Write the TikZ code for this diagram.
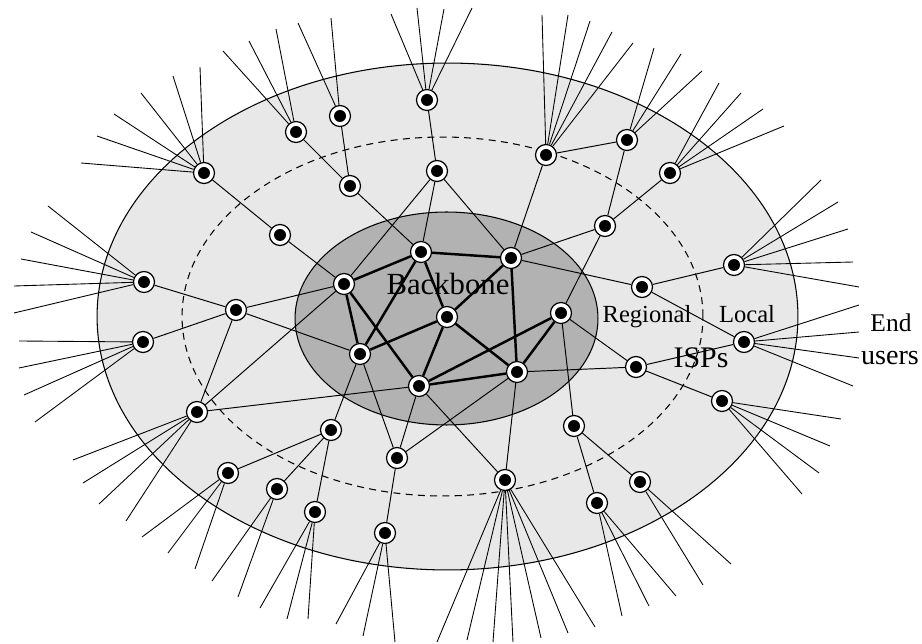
\documentclass[tikz,border=0pt]{standalone}
\usepackage{fontspec}
\setmainfont{Liberation Serif}
\begin{document}
\begin{tikzpicture}[
        x=0.02cm, y=-0.02cm,
        isp/.style={circle, draw=black, fill=white, line width=0.7pt, minimum size=0.42cm, inner sep=0pt,
            path picture={\fill[black] (path picture bounding box.center) circle (0.12cm);}},
        link/.style={black, line width=0.55pt},
        trunk/.style={black, line width=1.4pt},
        user/.style={black, line width=0.5pt},
        tag/.style={anchor=base, inner sep=0pt, font=\fontsize{14}{14}\selectfont}
    ]
    \useasboundingbox (0,0) rectangle (922,644);

    % Areas: local, regional, backbone
    \draw[fill=black!9, line width=0.6pt] (447.5,316.5) ellipse [x radius=7.01cm, y radius=5.07cm];
    \draw[dash pattern=on 4pt off 3pt, line width=0.6pt] (442.5,316.5) ellipse [x radius=5.21cm, y radius=3.59cm];
    \draw[fill=black!30, line width=0.6pt] (446.5,318.5) ellipse [x radius=3.03cm, y radius=2.13cm];

    % Backbone routers
    \node[isp] (B1) at (344,284) {};
    \node[isp] (B2) at (421,252) {};
    \node[isp] (B3) at (511,258) {};
    \node[isp] (B4) at (447,317) {};
    \node[isp] (B5) at (561,313) {};
    \node[isp] (B6) at (360,354) {};
    \node[isp] (B7) at (419,386) {};
    \node[isp] (B8) at (517,372) {};

    % Regional ISPs
    \node[isp] (R1) at (350,186) {};
    \node[isp] (R2) at (437,171) {};
    \node[isp] (R3) at (280,235) {};
    \node[isp] (R4) at (236,310) {};
    \node[isp] (R5) at (605,226) {};
    \node[isp] (R6) at (642,287) {};
    \node[isp] (R7) at (636,367) {};
    \node[isp] (R8) at (331,430) {};
    \node[isp] (R9) at (397,458) {};
    \node[isp] (R10) at (574,426) {};

    % Local ISPs
    \node[isp] (L1) at (204,173) {};
    \node[isp] (L2) at (296,132) {};
    \node[isp] (L3) at (340,116) {};
    \node[isp] (L4) at (427,100) {};
    \node[isp] (L5) at (546,155) {};
    \node[isp] (L6) at (627,140) {};
    \node[isp] (L7) at (670,173) {};
    \node[isp] (L8) at (734,265) {};
    \node[isp] (L9) at (744,342) {};
    \node[isp] (L10) at (722,401) {};
    \node[isp] (L11) at (640,482) {};
    \node[isp] (L12) at (597,503) {};
    \node[isp] (L13) at (505,480) {};
    \node[isp] (L14) at (385,533) {};
    \node[isp] (L15) at (315,512) {};
    \node[isp] (L16) at (277,489) {};
    \node[isp] (L17) at (228,473) {};
    \node[isp] (L18) at (143,342) {};
    \node[isp] (L19) at (144,282) {};
    \node[isp] (L20) at (197,412) {};

    % Backbone trunks
    \draw[trunk] (B1) -- (B2) -- (B3);
    \draw[trunk] (B1) -- (B6);
    \draw[trunk] (B1) -- (B7);
    \draw[trunk] (B2) -- (B4);
    \draw[trunk] (B2) -- (B6);
    \draw[trunk] (B3) -- (B4);
    \draw[trunk] (B3) -- (B8);
    \draw[trunk] (B4) -- (B6);
    \draw[trunk] (B4) -- (B7);
    \draw[trunk] (B4) -- (B8);
    \draw[trunk] (B5) -- (B7);
    \draw[trunk] (B5) -- (B8);
    \draw[trunk] (B7) -- (B8);

    % Regional and local links, left half
    \draw[link] (L1) -- (R3) -- (B1);
    \draw[link] (L2) -- (R1) -- (B2);
    \draw[link] (L3) -- (R1);
    \draw[link] (L4) -- (R2) -- (B2);
    \draw[link] (R2) -- (B1);
    \draw[link] (R2) -- (B3);
    \draw[link] (L19) -- (R4) -- (B1);
    \draw[link] (L18) -- (R4) -- (B6);
    \draw[link] (R4) -- (L20);
    \draw[link] (L20) -- (B1);
    \draw[link] (L20) -- (B7);
    \draw[link] (B6) -- (R8);
    \draw[link] (R8) -- (L17);
    \draw[link] (R8) -- (L16);
    \draw[link] (R8) -- (L15);
    \draw[link] (B6) -- (R9) -- (L14);
    \draw[link] (B7) -- (R9) -- (B8);
    \draw[link] (B7) -- (L13) -- (B8);

    % Regional and local links, right half
    \draw[link] (L6) -- (L5) -- (B3);
    \draw[link] (L6) -- (R5) -- (B3);
    \draw[link] (L7) -- (R5) -- (B5);
    \draw[link] (B3) -- (R6) -- (L8);
    \draw[link] (R6) -- (L9);
    \draw[link] (B5) -- (R7) -- (L9);
    \draw[link] (R7) -- (L10);
    \draw[link] (B8) -- (R7);
    \draw[link] (B5) -- (R10) -- (L11);
    \draw[link] (R10) -- (L12);

    % End users
    \foreach \n/\ends in {
        L1/{81/163, 97/136, 114/114, 141/93, 173/76, 200/67},
        L2/{223/51, 249/41, 276/29},
        L3/{298/23, 331/18},
        L4/{391/14, 417/8, 444/9, 472/8},
        L5/{542/15, 568/15, 590/21, 612/32, 633/43},
        L6/{654/48, 681/54, 702/71},
        L7/{719/83, 741/93, 763/109, 784/126},
        L8/{821/180, 838/202, 848/229, 853/262, 859/287},
        L9/{859/305, 859/332, 859/358, 853/386},
        L10/{841/419, 830/446, 819/473, 802/494},
        L11/{731/564, 703/585},
        L12/{676/596, 649/606, 622/616},
        L13/{437/642, 467/640, 493/642, 513/642, 541/638, 568/633, 595/627},
        L14/{336/624, 363/636, 395/642},
        L15/{260/608, 287/619, 308/619},
        L16/{212/581, 238/597},
        L17/{142/537, 168/553, 195/569},
        L20/{73/460, 83/483, 99/504, 126/521},
        L18/{19/341, 19/368, 24/395, 35/422},
        L19/{48/206, 31/232, 21/259, 14/286, 14/313}}{
        \foreach \a/\b [count=\i] in \ends {
            \coordinate (\n u\i) at (\a,\b);
            \draw[user] (\n) -- (\n u\i);
        }
    }

    % Labels
    \node[tag, font=\fontsize{17.5}{17.5}\selectfont] (backbone) at (448,295) {Backbone};
    \node[tag] (regional) at (647,323) {Regional};
    \node[tag] (local) at (747,323) {Local};
    \node[tag, font=\fontsize{17}{17}\selectfont] (isps) at (701,368) {ISPs};
    \node[tag, font=\fontsize{14.5}{14.5}\selectfont] (end) at (891,332) {End};
    \node[tag, font=\fontsize{16}{16}\selectfont] (users) at (890,365) {users};
\end{tikzpicture}
\end{document}
